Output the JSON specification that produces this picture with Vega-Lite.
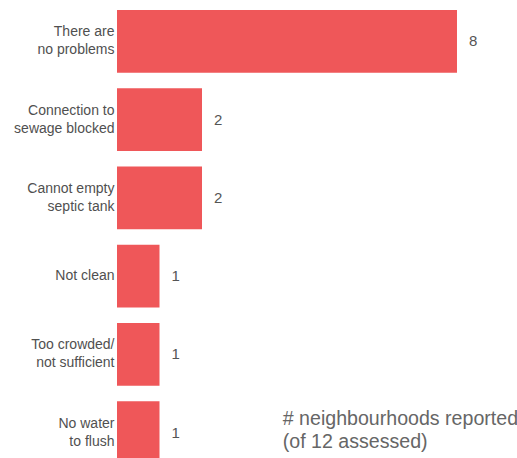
{
  "$schema": "https://vega.github.io/schema/vega-lite/v6.json",
  "autosize": {"type": "none"},
  "padding": {"left": 117, "top": 0, "right": 0, "bottom": 0},
  "width": 400,
  "height": 474,
  "background": "white",
  "config": {"view": {"stroke": null}, "font": "Liberation Sans"},
  "datasets": {
    "bars": [
      {"problem": "There are|no problems", "count": 8},
      {"problem": "Connection to|sewage blocked", "count": 2},
      {"problem": "Cannot empty|septic tank", "count": 2},
      {"problem": "Not clean", "count": 1},
      {"problem": "Too crowded/|not sufficient", "count": 1},
      {"problem": "No water|to flush", "count": 1}
    ],
    "note": [
      {"problem": "No water|to flush", "count": 3.9, "note": ["# neighbourhoods reported", "(of 12 assessed)"]}
    ]
  },
  "encoding": {
    "y": {"field": "problem", "type": "nominal",
      "sort": ["There are|no problems", "Connection to|sewage blocked", "Cannot empty|septic tank", "Not clean", "Too crowded/|not sufficient", "No water|to flush"],
      "scale": {"paddingInner": 0.2, "paddingOuter": 0.128},
      "axis": {"title": null, "domain": false, "ticks": false, "labelPadding": 3,
        "labelExpr": "split(datum.label, '|')", "labelFontSize": 14, "labelColor": "#505050",
        "labelFont": "Liberation Sans", "labelLineHeight": 18, "labelLimit": 200,
        "labelOffset": {"expr": "indexof(datum.label, '|') >= 0 ? -9 : 0"}}},
    "x": {"field": "count", "type": "quantitative", "scale": {"domain": [0, 9.412], "nice": false, "zero": true}, "axis": null}
  },
  "layer": [
    {"data": {"name": "bars"},
      "mark": {"type": "bar", "color": "#EF5759"}},
    {"data": {"name": "bars"},
      "mark": {"type": "text", "align": "left", "baseline": "middle", "dx": 12, "fontSize": 15, "color": "#555555", "font": "Liberation Sans"},
      "encoding": {"text": {"field": "count", "type": "quantitative"}}},
    {"data": {"name": "note"},
      "mark": {"type": "text", "align": "left", "baseline": "middle", "fontSize": 19.6, "lineHeight": 23, "color": "#666666", "font": "Liberation Sans", "dy": -14},
      "encoding": {
        "text": {"field": "note"}
      }}
  ]
}
